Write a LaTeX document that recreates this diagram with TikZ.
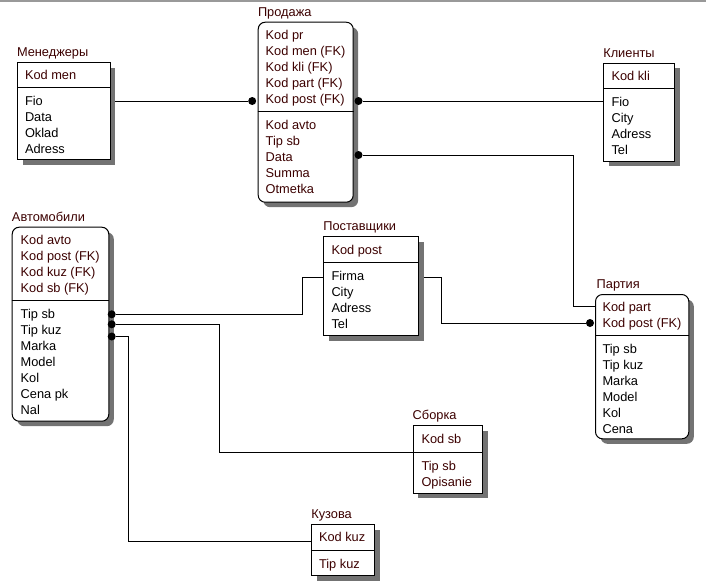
\documentclass[tikz,border=0pt]{standalone}
\usepackage{fontspec}
\setmainfont{Liberation Sans}
\usetikzlibrary{shadows}
\definecolor{mar}{HTML}{3C0000}
\pgfdeclarelayer{bg}
\pgfsetlayers{bg,main}
\begin{document}
\begin{tikzpicture}[x=1pt,y=-1pt, line width=1pt,
  ent/.style={draw=black, fill=white, anchor=north west, inner sep=0pt,
    drop shadow={shadow xshift=5pt, shadow yshift=-5pt, fill=black!55, opacity=1}},
  rent/.style={ent, rounded corners=7pt},
  ttl/.style={anchor=base west, inner sep=0pt, text=mar, font=\fontsize{12.8}{16}\selectfont},
  keyf/.style={ttl},
  attf/.style={ttl, text=black},
  dot/.style={circle, fill=black, inner sep=0pt, minimum size=8pt},
  link/.style={draw=black, line width=1pt}]
\useasboundingbox (0,0) rectangle (706,587);

% ---------- Менеджеры ----------
\node[ent, minimum width=92.5pt, minimum height=97pt] (men) at (17,62) {};
\node[ttl] (men-t) at (16.5,56) {Менеджеры};
\node[keyf] (men-k1) at (24.5,79.3) {Kod men};
\draw (men.west |- 0,87.3) -- (men.east |- 0,87.3);
\foreach \t [count=\i] in {Fio,Data,Oklad,Adress}
  \node[attf] (men-a\i) at (24.5,89.7+16*\i) {\t};

% ---------- Продажа ----------
\node[rent, minimum width=95pt, minimum height=180pt] (sale) at (257.7,21.7) {};
\node[ttl] (sale-t) at (257.5,16) {Продажа};
\foreach \t [count=\i] in {Kod pr,Kod men (FK),Kod kli (FK),Kod part (FK),Kod post (FK)}
  \node[keyf] (sale-k\i) at (265.2,23+16*\i) {\t};
\draw (sale.west |- 0,111) -- (sale.east |- 0,111);
\foreach \t [count=\i] in {Kod avto,Tip sb,Data,Summa,Otmetka}
  \node[keyf] (sale-a\i) at (265.2,113.5+16*\i) {\t};

% ---------- Клиенты ----------
\node[ent, minimum width=70.7pt, minimum height=98pt] (kli) at (603.3,62.7) {};
\node[ttl] (kli-t) at (602.8,57) {Клиенты};
\node[keyf] (kli-k1) at (611,80) {Kod kli};
\draw (kli.west |- 0,88) -- (kli.east |- 0,88);
\foreach \t [count=\i] in {Fio,City,Adress,Tel}
  \node[attf] (kli-a\i) at (611,90.5+16*\i) {\t};

% ---------- Автомобили ----------
\node[rent, minimum width=96.6pt, minimum height=194pt] (avto) at (11.7,226.7) {};
\node[ttl] (avto-t) at (11.5,221) {Автомобили};
\foreach \t [count=\i] in {Kod avto,Kod post (FK),Kod kuz (FK),Kod sb (FK)}
  \node[keyf] (avto-k\i) at (20.2,228+16*\i) {\t};
\draw (avto.west |- 0,300) -- (avto.east |- 0,300);
\foreach \t [count=\i] in {Tip sb,Tip kuz,Marka,Model,Kol,Cena pk,Nal}
  \node[attf] (avto-a\i) at (20.2,302.5+16*\i) {\t};

% ---------- Поставщики ----------
\node[ent, minimum width=95pt, minimum height=99pt] (post) at (323.3,236) {};
\node[ttl] (post-t) at (322.8,230) {Поставщики};
\node[keyf] (post-k1) at (331,254) {Kod post};
\draw (post.west |- 0,262.3) -- (post.east |- 0,262.3);
\foreach \t [count=\i] in {Firma,City,Adress,Tel}
  \node[attf] (post-a\i) at (331,264.5+16*\i) {\t};

% ---------- Партия ----------
\node[rent, minimum width=93.3pt, minimum height=144.3pt] (part) at (595,294) {};
\node[ttl] (part-t) at (596.2,288) {Партия};
\foreach \t [count=\i] in {Kod part,Kod post (FK)}
  \node[keyf] (part-k\i) at (602,295.3+16*\i) {\t};
\draw (part.west |- 0,335) -- (part.east |- 0,335);
\foreach \t [count=\i] in {Tip sb,Tip kuz,Marka,Model,Kol,Cena}
  \node[attf] (part-a\i) at (602,337.5+16*\i) {\t};

% ---------- Сборка ----------
\node[ent, minimum width=69.6pt, minimum height=67.7pt] (sb) at (412.7,425) {};
\node[ttl] (sb-t) at (412.2,419) {Сборка};
\node[keyf] (sb-k1) at (421,443.5) {Kod sb};
\draw (sb.west |- 0,452.3) -- (sb.east |- 0,452.3);
\foreach \t [count=\i] in {Tip sb,Opisanie}
  \node[keyf] (sb-a\i) at (421,454.5+16*\i) {\t};

% ---------- Кузова ----------
\node[ent, minimum width=63pt, minimum height=50.7pt] (kuz) at (311,524.3) {};
\node[ttl] (kuz-t) at (310.8,518.5) {Кузова};
\node[keyf] (kuz-k1) at (318.5,541.5) {Kod kuz};
\draw (kuz.west |- 0,550.7) -- (kuz.east |- 0,550.7);
\node[keyf] (kuz-a1) at (318.5,568) {Tip kuz};

% ---------- dots ----------
\node[dot] (d1) at (252.2,101) {};
\node[dot] (d2) at (358.5,101) {};
\node[dot] (d3) at (358.5,155) {};
\node[dot] (d4) at (590,323) {};
\node[dot] (d5) at (111.7,314.3) {};
\node[dot] (d6) at (111.7,324.3) {};
\node[dot] (d7) at (111.7,336.5) {};

% ---------- connectors ----------
\coordinate (c3) at (573.3,306);
\coordinate (c4) at (441,277);
\coordinate (c5) at (302.3,277.3);
\coordinate (c6) at (219,452.3);
\coordinate (c7) at (128.7,541.7);
\begin{pgfonlayer}{bg}
\fill[white] (0,0) rectangle (706,587);
\fill[black!40] (0,0) rectangle (706,2);
\draw[link] (men.east |- d1) -- (d1);
\draw[link] (d2) -- (kli.west |- d2);
\draw[link] (d3) -| (c3) -- (part.west |- c3);
\draw[link] (post.east |- c4) -- (c4) |- (d4);
\draw[link] (d5) -| (c5) -- (post.west |- c5);
\draw[link] (d6) -| (c6) -- (sb.west |- c6);
\draw[link] (d7) -| (c7) -- (kuz.west |- c7);
\end{pgfonlayer}
\end{tikzpicture}
\end{document}
